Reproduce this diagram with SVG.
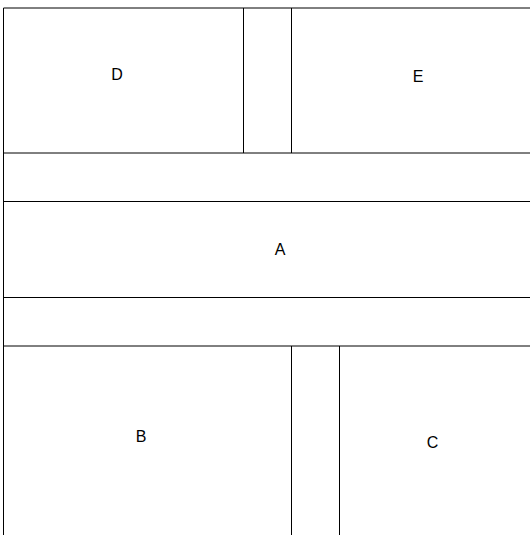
<svg xmlns="http://www.w3.org/2000/svg" width="530" height="535" viewBox="0 0 530 535">
<style>
.ln{stroke:#000;stroke-width:1;fill:none}
.lb{font-family:"Liberation Sans",Arial,sans-serif;font-size:16px;fill:#000;text-anchor:middle}
</style>
<rect x="0" y="0" width="530" height="535" fill="#fff"/>
<g id="connectors">
<path class="ln" d="M3.5 8 H530"/>
<path class="ln" d="M3.5 8 V535"/>
<path class="ln" d="M243.5 8 V153"/>
<path class="ln" d="M291.5 8 V153"/>
<path class="ln" d="M3.5 153 H530"/>
<path class="ln" d="M3.5 201.5 H530"/>
<path class="ln" d="M3.5 297.5 H530"/>
<path class="ln" d="M3.5 346 H530"/>
<path class="ln" d="M291.5 346 V535"/>
<path class="ln" d="M339.5 346 V535"/>
</g>
<g id="D"><text class="lb" x="117" y="80">D</text></g>
<g id="E"><text class="lb" x="418" y="82">E</text></g>
<g id="A"><text class="lb" x="280" y="255">A</text></g>
<g id="B"><text class="lb" x="141" y="442">B</text></g>
<g id="C"><text class="lb" x="432.5" y="448">C</text></g>
</svg>
